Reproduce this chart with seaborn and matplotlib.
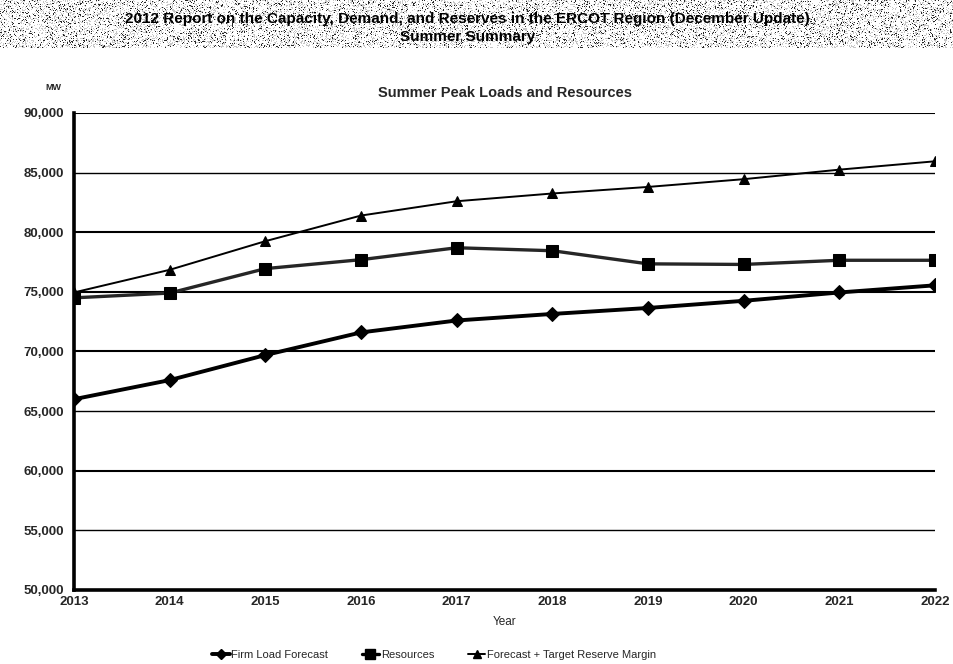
import numpy as np
import pandas as pd
import matplotlib
matplotlib.use("Agg")
import matplotlib.pyplot as plt
import seaborn as sns
from matplotlib import font_manager

years = [2013, 2014, 2015, 2016, 2017, 2018, 2019, 2020, 2021, 2022]
firm_load = [66000, 67600, 69700, 71600, 72600, 73150, 73650, 74250, 74950, 75550]
resources = [74500, 74900, 76950, 77700, 78700, 78450, 77350, 77300, 77650, 77650]
target_margin = [74950, 76850, 79250, 81400, 82600, 83250, 83800, 84450, 85250, 85950]

series_names = ["Firm Load Forecast", "Resources", "Forecast + Target Reserve Margin"]
y_ticks = [50000, 55000, 60000, 65000, 70000, 75000, 80000, 85000, 90000]

header_line1 = "2012 Report on the Capacity, Demand, and Reserves in the ERCOT Region (December Update)"
header_line2 = "Summer Summary"
chart_title = "Summer Peak Loads and Resources"

sns.set_theme(style="white")
available = {f.name for f in font_manager.fontManager.ttflist}
narrow = "Liberation Sans Narrow" if "Liberation Sans Narrow" in available else "Liberation Sans"
plt.rcParams["font.family"] = [narrow, "DejaVu Sans"]

df = pd.DataFrame({
    "Year": years * 3,
    "MW": firm_load + resources + target_margin,
    "Series": [series_names[0]] * len(years) + [series_names[1]] * len(years) + [series_names[2]] * len(years),
})

fig = plt.figure(figsize=(9.54, 6.64), dpi=100)
fig.patch.set_facecolor("white")

# stippled header band
band = fig.add_axes([0, 1 - 48 / 664, 1, 48 / 664])
rng = np.random.default_rng(7)
tex = rng.random((48, 954))
shade = np.where(tex < 0.09, 0.15, np.where(tex < 0.30, 0.78, 1.0))
band.imshow(shade, cmap="gray", vmin=0, vmax=1, aspect="auto", interpolation="nearest")
band.set_axis_off()
band.text(0.49, 0.60, header_line1, transform=band.transAxes, ha="center", va="center",
          fontsize=11, fontweight="bold", color="black")
band.text(0.49, 0.22, header_line2, transform=band.transAxes, ha="center", va="center",
          fontsize=11, fontweight="bold", color="black")

ax = fig.add_axes([74 / 954, 1 - 590 / 664, (935 - 74) / 954, (590 - 113) / 664])

palette = {name: "black" for name in series_names}
markers = {series_names[0]: "D", series_names[1]: "s", series_names[2]: "^"}
sns.lineplot(data=df, x="Year", y="MW", hue="Series", style="Series", palette=palette,
             markers=markers, dashes=False, ax=ax, legend=False, zorder=3)

line_widths = [2.8, 2.4, 1.4]
marker_sizes = [7, 9, 6.5]
line_colors = ["black", "#262626", "black"]
for ln, lw, ms, c in zip(ax.lines, line_widths, marker_sizes, line_colors):
    ln.set_linewidth(lw)
    ln.set_markersize(ms)
    ln.set_color(c)
    ln.set_markerfacecolor("black")
    ln.set_markeredgecolor("black")

ax.set_xlim(years[0], years[-1])
ax.set_ylim(y_ticks[0], y_ticks[-1])
ax.set_yticks(y_ticks)
ax.set_yticklabels([f"{v:,}" for v in y_ticks])
ax.set_xticks(years)
ax.set_xticklabels([str(y) for y in years])
for v in y_ticks[1:]:
    ax.axhline(v, color="black", lw=1.5 if v in (60000, 70000, 75000, 80000, 90000) else 1.0, zorder=1)

for side in ("top", "right"):
    ax.spines[side].set_visible(False)
ax.spines["left"].set_linewidth(2.6)
ax.spines["bottom"].set_linewidth(2.6)
ax.spines["left"].set_color("black")
ax.spines["bottom"].set_color("black")
ax.tick_params(axis="x", direction="in", length=4, width=1.5, color="black", pad=4,
               labelsize=9.5)
ax.tick_params(axis="y", length=0, pad=7, labelsize=9.5)
for lab in ax.get_xticklabels() + ax.get_yticklabels():
    lab.set_fontweight("bold")
ax.set_xlabel("Year", fontsize=8.5, labelpad=6)
ax.set_ylabel("")

fig.text(505 / 954, 1 - 93 / 664, chart_title, ha="center", va="center",
         fontsize=10.5, fontweight="bold", family=["Liberation Sans", "DejaVu Sans"])
fig.text(45 / 954, 1 - 88 / 664, "MW", ha="left", va="center", fontsize=6.5, fontweight="bold")

handles = [plt.Line2D([], [], color="black", lw=lw, marker=markers[n], markersize=ms * 0.8)
           for n, lw, ms in zip(series_names, line_widths, marker_sizes)]
fig.legend(handles, series_names, loc="center", bbox_to_anchor=(0.455, 1 - 655 / 664),
           ncol=3, frameon=False, fontsize=8, handlelength=1.6, handletextpad=0.15,
           columnspacing=3.0)

fig.savefig("out.png", dpi=100, facecolor="white")
